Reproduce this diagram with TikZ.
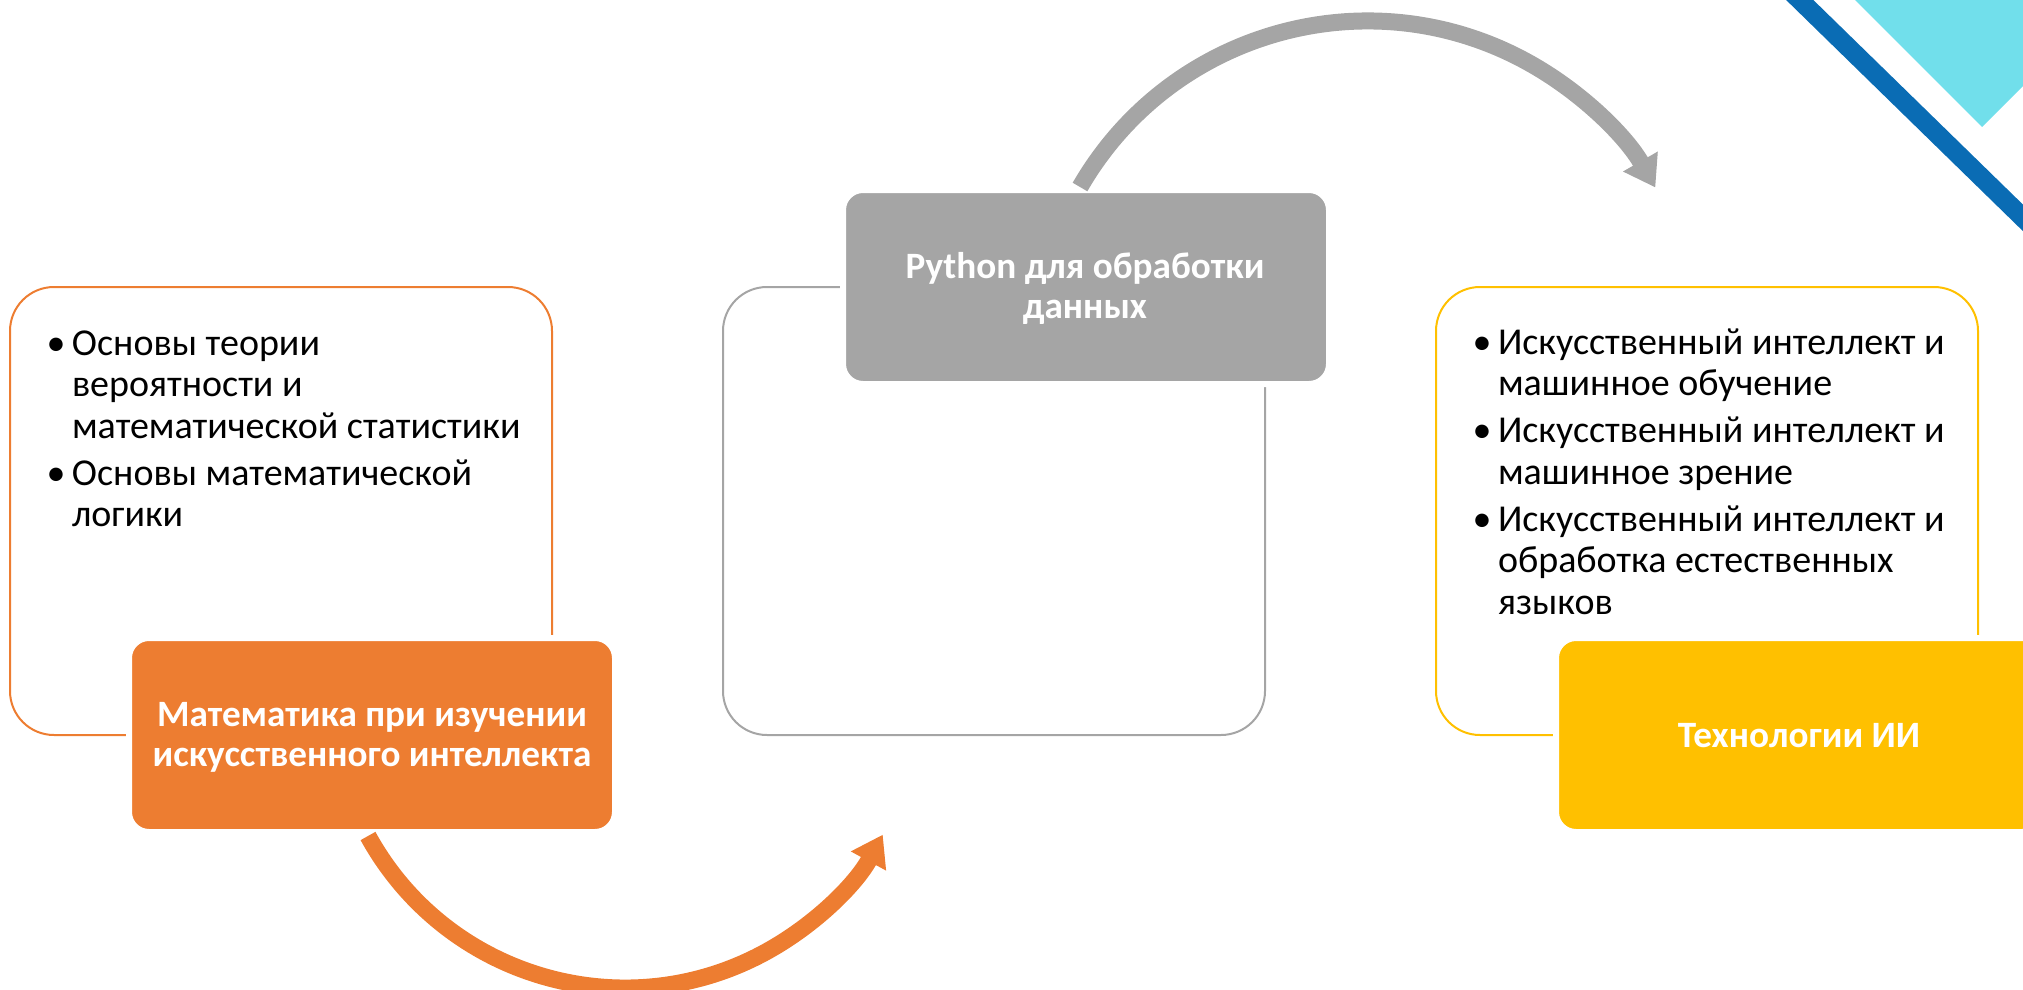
\documentclass[tikz,border=0pt]{standalone}
\usepackage{fontspec}
\setmainfont{Carlito}
\usetikzlibrary{arrows.meta}
\definecolor{accorange}{HTML}{ED7D31}
\definecolor{accgray}{HTML}{A5A5A5}
\definecolor{accyellow}{HTML}{FFC000}
\definecolor{bandblue}{RGB}{10,108,180}
\definecolor{cornercyan}{HTML}{71DFEB}
\newcommand{\itembullet}{\leavevmode\llap{\makebox[16pt]{\textbullet}}}

\begin{document}
\begin{tikzpicture}[x=0.5pt,y=0.5pt,
  outlinebox/.style={draw, line width=1pt, rounded corners=22pt, anchor=north west,
    inner sep=0pt, outer sep=0pt, minimum width=271pt, minimum height=224pt},
  tagbox/.style={draw=white, line width=3pt, rounded corners=10pt, anchor=north west,
    inner sep=0pt, outer sep=0pt, minimum width=243pt, minimum height=97pt},
  bodytext/.style={anchor=base west, inner sep=0pt, outer sep=0pt,
    font=\fontsize{19}{20.75}\selectfont},
  tagtext/.style={anchor=base, inner sep=0pt, outer sep=0pt, text=white,
    font=\bfseries\fontsize{18.6}{20}\selectfont},
  cyclearrow/.style={line width=8.5pt, -{Triangle[length=15pt,width=19pt]}}
]
\useasboundingbox (0,0) rectangle (2023,-990);
\clip (0,0) rectangle (2023,-990);

% corner decoration
\fill[cornercyan] (1855,0) -- (1982,-127) -- (2109,0) -- cycle;
\draw[bandblue, line width=9.5pt] (1770,29) -- (2060,-254);

% content frames
\node[outlinebox, draw=accorange] (f1) at (10,-287) {};
\node[outlinebox, draw=accgray]   (f2) at (723,-287) {};
\node[outlinebox, draw=accyellow] (f3) at (1436,-287) {};

% title boxes
\node[tagbox, fill=accorange] (t1) at (129,-638) {};
\node[tagbox, fill=accgray]   (t2) at (843,-190) {};
\node[tagbox, fill=accyellow] (t3) at (1556,-638) {};

% titles
\node[tagtext] (l1) at (372,-726) {\begin{tabular}[t]{@{}c@{}}Математика при изучении\\искусственного интеллекта\end{tabular}};
\node[tagtext] (l2) at (1085,-278) {\begin{tabular}[t]{@{}c@{}}Python для обработки\\данных\end{tabular}};
\node[tagtext] (l3) at (1799,-747) {Технологии ИИ};

% bullet lists
\node[bodytext] (b1) at (72,-355) {\parbox[t]{300pt}{\raggedright\setlength{\parskip}{2.75pt}%
\itembullet Основы теории\\вероятности и\\математической статистики\par
\itembullet Основы математической\\логики}};
\node[bodytext] (b3) at (1498,-354) {\parbox[t]{300pt}{\raggedright\setlength{\parskip}{2.75pt}%
\itembullet Искусственный интеллект и\\машинное обучение\par
\itembullet Искусственный интеллект и\\машинное зрение\par
\itembullet Искусственный интеллект и\\обработка естественных\\языков}};

% cycle arrows
\coordinate (o1) at (368,-836);
\draw[cyclearrow, accorange] (o1) arc[start angle=208.8, end angle=331.5, radius=293.3];
\coordinate (g1) at (1080,-187);
\draw[cyclearrow, accgray] (g1) arc[start angle=150, end angle=29.9, radius=332];
\end{tikzpicture}
\end{document}
